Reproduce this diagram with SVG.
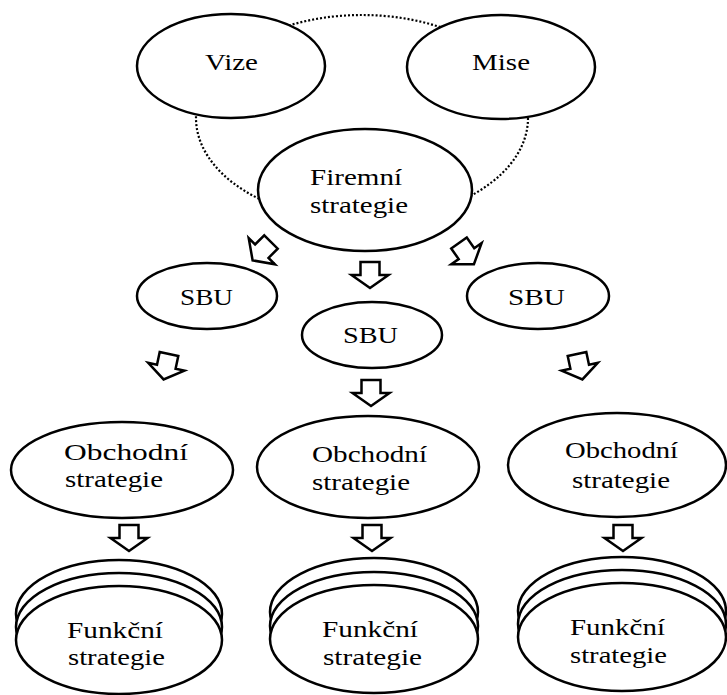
<svg xmlns="http://www.w3.org/2000/svg" xmlns:xlink="http://www.w3.org/1999/xlink" width="727" height="695" viewBox="0 0 727 695">
<style>
.n{fill:#fff;stroke:#000;stroke-width:2.5}
.a{fill:#fff;stroke:#000;stroke-width:2.5;stroke-linejoin:miter}
.d{fill:none;stroke:#000;stroke-width:2.2;stroke-dasharray:2 2}
text{font-size:23px;fill:#000}
</style>
<defs>
<path id="arr" d="M-9.5,0 H9.5 V13 H18.5 L0,26 L-18.5,13 H-9.5 Z"/>
</defs>
<rect width="727" height="695" fill="#fff"/>
<g id="connectors">
<ellipse class="d" cx="362" cy="118" rx="166" ry="103"/>
<use href="#arr" class="a" transform="translate(271,242) rotate(45)"/>
<use href="#arr" class="a" transform="translate(370,262)"/>
<use href="#arr" class="a" transform="translate(459,243) rotate(-35)"/>
<use href="#arr" class="a" transform="translate(169,354) rotate(12)"/>
<use href="#arr" class="a" transform="translate(371,380)"/>
<use href="#arr" class="a" transform="translate(577,354) rotate(-12)"/>
<use href="#arr" class="a" transform="translate(129,525)"/>
<use href="#arr" class="a" transform="translate(372,525)"/>
<use href="#arr" class="a" transform="translate(623,525)"/>
</g>
<g font-family="Liberation Serif, DejaVu Serif, serif" lengthAdjust="spacingAndGlyphs">
<g id="vize">
<ellipse class="n" cx="231" cy="66" rx="94" ry="52"/>
<text x="205" y="70" textLength="53" lengthAdjust="spacingAndGlyphs">Vize</text>
</g>
<g id="mise">
<ellipse class="n" cx="501" cy="67" rx="94" ry="52"/>
<text x="472" y="70" textLength="58" lengthAdjust="spacingAndGlyphs">Mise</text>
</g>
<g id="firemni">
<ellipse class="n" cx="365" cy="190" rx="107" ry="61"/>
<text x="310" y="185" textLength="92" lengthAdjust="spacingAndGlyphs">Firemní</text>
<text x="310" y="213" textLength="98" lengthAdjust="spacingAndGlyphs">strategie</text>
</g>
<g id="sbu1">
<ellipse class="n" cx="207" cy="296" rx="70" ry="33"/>
<text x="180" y="305" textLength="53" lengthAdjust="spacingAndGlyphs">SBU</text>
</g>
<g id="sbu2">
<ellipse class="n" cx="372" cy="335" rx="70" ry="33"/>
<text x="343" y="343" textLength="55" lengthAdjust="spacingAndGlyphs">SBU</text>
</g>
<g id="sbu3">
<ellipse class="n" cx="538" cy="296" rx="71" ry="33"/>
<text x="508" y="305" textLength="57" lengthAdjust="spacingAndGlyphs">SBU</text>
</g>
<g id="obchodni1">
<ellipse class="n" cx="122" cy="470" rx="111" ry="48"/>
<text x="64" y="460" textLength="124" lengthAdjust="spacingAndGlyphs">Obchodní</text>
<text x="65" y="487" textLength="98" lengthAdjust="spacingAndGlyphs">strategie</text>
</g>
<g id="obchodni2">
<ellipse class="n" cx="368" cy="467" rx="111" ry="51"/>
<text x="312" y="462" textLength="115" lengthAdjust="spacingAndGlyphs">Obchodní</text>
<text x="312" y="490" textLength="98" lengthAdjust="spacingAndGlyphs">strategie</text>
</g>
<g id="obchodni3">
<ellipse class="n" cx="617" cy="465" rx="109" ry="52"/>
<text x="565" y="458" textLength="113" lengthAdjust="spacingAndGlyphs">Obchodní</text>
<text x="572" y="488" textLength="98" lengthAdjust="spacingAndGlyphs">strategie</text>
</g>
<g id="funkcni1">
<ellipse class="n" cx="119" cy="614" rx="103" ry="54"/>
<ellipse class="n" cx="119" cy="627" rx="103" ry="54"/>
<ellipse class="n" cx="119" cy="640" rx="103" ry="54"/>
<text x="67" y="638" textLength="96" lengthAdjust="spacingAndGlyphs">Funkční</text>
<text x="68" y="665" textLength="97" lengthAdjust="spacingAndGlyphs">strategie</text>
</g>
<g id="funkcni2">
<ellipse class="n" cx="374" cy="612" rx="104" ry="54"/>
<ellipse class="n" cx="374" cy="626" rx="104" ry="54"/>
<ellipse class="n" cx="374" cy="639" rx="104" ry="54"/>
<text x="322" y="637" textLength="96" lengthAdjust="spacingAndGlyphs">Funkční</text>
<text x="323" y="665" textLength="99" lengthAdjust="spacingAndGlyphs">strategie</text>
</g>
<g id="funkcni3">
<ellipse class="n" cx="622" cy="611" rx="104" ry="54"/>
<ellipse class="n" cx="622" cy="624" rx="104" ry="54"/>
<ellipse class="n" cx="622" cy="637" rx="104" ry="54"/>
<text x="570" y="635" textLength="95" lengthAdjust="spacingAndGlyphs">Funkční</text>
<text x="570" y="663" textLength="97" lengthAdjust="spacingAndGlyphs">strategie</text>
</g>
</g>
</svg>
